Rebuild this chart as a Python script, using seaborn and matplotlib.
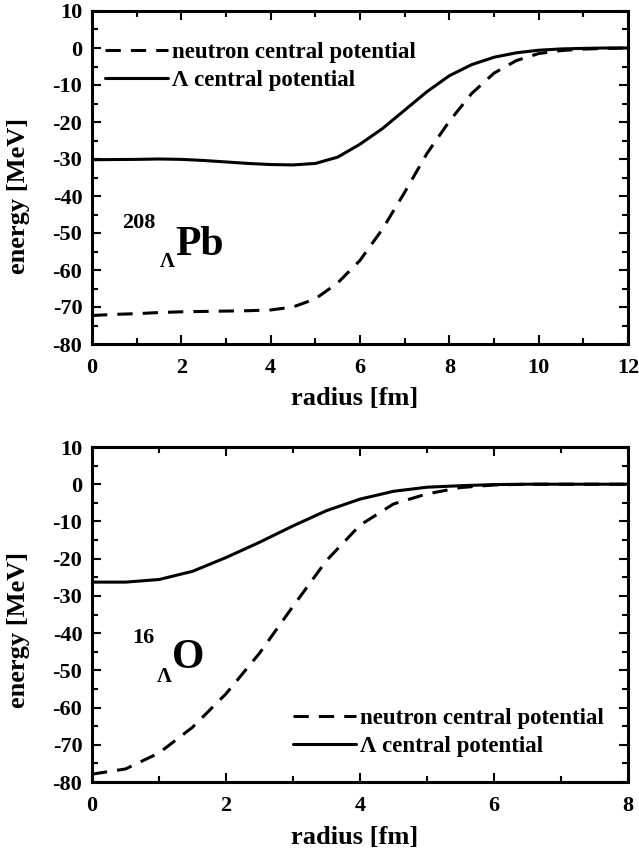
import numpy as np
import pandas as pd
import matplotlib
matplotlib.use("Agg")
import matplotlib.pyplot as plt
from matplotlib.ticker import MultipleLocator
import seaborn as sns

# ---- data: 208 Lambda Pb ----
pb_r_lam = [0, 0.5, 1, 1.5, 2, 2.5, 3, 3.5, 4, 4.5, 5, 5.5, 6, 6.5, 7, 7.5, 8, 8.5, 9, 9.5, 10, 10.5, 11, 11.5, 12]
pb_v_lam = [-30.2, -30.15, -30.1, -30.0, -30.1, -30.4, -30.8, -31.2, -31.5, -31.6, -31.2, -29.5, -26.0, -21.8,
            -16.8, -11.8, -7.5, -4.5, -2.5, -1.3, -0.6, -0.25, -0.1, 0.0, 0.0]
pb_r_n = [0, 0.5, 1, 1.5, 2, 2.5, 3, 3.5, 4, 4.5, 5, 5.5, 6, 6.5, 7, 7.5, 8, 8.5, 9, 9.5, 10, 10.5, 11, 11.5, 12]
pb_v_n = [-72.3, -72.0, -71.8, -71.5, -71.3, -71.2, -71.1, -71.0, -70.8, -70.0, -67.8, -63.5, -57.4, -49.0,
          -39.0, -28.5, -19.8, -12.3, -6.8, -3.4, -1.5, -0.7, -0.3, -0.1, 0.0]

# ---- data: 16 Lambda O ----
o_r_lam = [0, 0.5, 1, 1.5, 2, 2.5, 3, 3.5, 4, 4.5, 5, 5.5, 6, 6.5, 7, 8]
o_v_lam = [-26.3, -26.3, -25.6, -23.4, -19.7, -15.6, -11.2, -7.1, -4.0, -1.9, -0.8, -0.4, -0.1, 0.0, 0.0, 0.0]
o_r_n = [0, 0.5, 1, 1.5, 2, 2.5, 3, 3.5, 4, 4.5, 5, 5.5, 6, 6.5, 7, 8]
o_v_n = [-77.9, -76.5, -72.2, -65.3, -56.3, -45.4, -32.8, -20.5, -11.0, -5.3, -2.6, -0.9, -0.2, 0.0, 0.0, 0.0]

labels = ["neutron central potential", "\u039b central potential"]
xlabel = "radius [fm]"
ylabel = "energy [MeV]"

sns.set_theme(style="ticks")
plt.rcParams["font.family"] = ["Liberation Serif", "DejaVu Serif"]
plt.rcParams["font.weight"] = "bold"
plt.rcParams["axes.labelweight"] = "bold"
plt.rcParams["axes.unicode_minus"] = False
plt.rcParams["text.color"] = "black"
plt.rcParams["axes.labelcolor"] = "black"
plt.rcParams["xtick.color"] = "black"
plt.rcParams["ytick.color"] = "black"

fig = plt.figure(figsize=(6.39, 8.52), dpi=100)
ax1 = fig.add_axes([92/639, 1-344/852, 536/639, 333/852])
ax2 = fig.add_axes([92/639, 1-782/852, 536/639, 335/852])

LW = 2.2
DASH = (5, 3.3)

def draw(ax, rn, vn, rl, vl, xmax):
    dfn = pd.DataFrame({"r": rn, "v": vn})
    dfl = pd.DataFrame({"r": rl, "v": vl})
    sns.lineplot(data=dfn, x="r", y="v", ax=ax, color="black", lw=LW,
                 linestyle="--", label=labels[0])
    sns.lineplot(data=dfl, x="r", y="v", ax=ax, color="black", lw=LW,
                 linestyle="-", label=labels[1])
    ax.lines[0].set_dashes(DASH)
    ax.set_xlim(0, xmax)
    ax.set_ylim(-80, 10)
    ax.xaxis.set_major_locator(MultipleLocator(2))
    ax.xaxis.set_minor_locator(MultipleLocator(1))
    ax.yaxis.set_major_locator(MultipleLocator(10))
    ax.yaxis.set_minor_locator(MultipleLocator(5))
    ax.tick_params(which="both", direction="in", top=True, right=True, width=1.5,
                   color="black", labelsize=16, pad=7, labelcolor="black")
    ax.tick_params(axis="x", which="both", pad=10)
    ax.tick_params(which="major", length=6.5)
    ax.tick_params(which="minor", length=4.5)
    for s in ax.spines.values():
        s.set_linewidth(2.2)
        s.set_color("black")
        s.set_visible(True)
    for t in ax.get_xticklabels() + ax.get_yticklabels():
        t.set_fontweight("bold")
    ax.set_xlabel(xlabel, fontsize=19, fontweight="bold", color="black")
    ax.set_ylabel(ylabel, fontsize=19, fontweight="bold", color="black")
    ax.xaxis.set_label_coords(0.49, -0.13)
    ax.grid(False)

draw(ax1, pb_r_n, pb_v_n, pb_r_lam, pb_v_lam, 12)
draw(ax2, o_r_n, o_v_n, o_r_lam, o_v_lam, 8)
ax1.yaxis.set_label_coords(-0.115, 0.444)
ax2.yaxis.set_label_coords(-0.115, 0.454)

leg_kw = dict(frameon=False, prop={"weight": "bold", "size": 16.5}, handlelength=2.75,
              handletextpad=0.18, labelspacing=0.3, borderpad=0, borderaxespad=0,
              labelcolor="black")
ax1.legend(loc="upper left", bbox_to_anchor=(0.024, 0.907), **leg_kw)
ax2.legend(loc="upper left", bbox_to_anchor=(0.375, 0.221), **leg_kw)

# nucleus annotations
ax1.text(0.056, 0.363, "208", transform=ax1.transAxes, fontsize=16, fontweight="bold", va="center", ha="left", color="black")
ax1.text(0.127, 0.246, "\u039b", transform=ax1.transAxes, fontsize=15, fontweight="bold", va="center", ha="left", color="black")
ax1.text(0.155, 0.267, "Pb", transform=ax1.transAxes, fontsize=30, fontweight="bold", va="baseline", ha="left", color="black")
ax2.text(0.075, 0.430, "16", transform=ax2.transAxes, fontsize=16, fontweight="bold", va="center", ha="left", color="black")
ax2.text(0.121, 0.313, "\u039b", transform=ax2.transAxes, fontsize=15, fontweight="bold", va="center", ha="left", color="black")
ax2.text(0.149, 0.340, "O", transform=ax2.transAxes, fontsize=30, fontweight="bold", va="baseline", ha="left", color="black")

fig.savefig("out.png", dpi=100, facecolor="white")
